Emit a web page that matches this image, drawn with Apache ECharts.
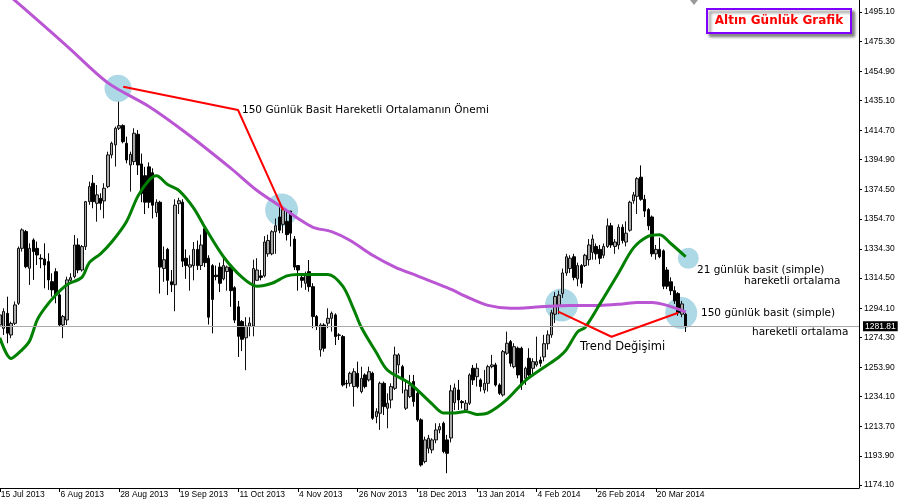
<!DOCTYPE html>
<html>
<head>
<meta charset="utf-8">
<script src="https://cdn.jsdelivr.net/npm/echarts@6.0.0/dist/echarts.min.js"></script>
<style>
  html, body { margin: 0; padding: 0; background: #fff; }
  #chart { width: 900px; height: 500px; }
</style>
</head>
<body>
<div id="chart"></div>
<script>
// --- data ---
const MONTHS = ['Jan', 'Feb', 'Mar', 'Apr', 'May', 'Jun', 'Jul', 'Aug', 'Sep', 'Oct', 'Nov', 'Dec'];
const startDate = '2013-07-15';
const holidays = ['2013-12-25', '2014-01-01'];
const slotCount = 231;      // bars + empty space on the right (MT4 chart shift)
const labelEvery = 16;

// daily candles: [open, close, low, high]
const ohlc = [
  [1282.7,1289.5,1280.4,1292.2],[1280.4,1291.8,1275.9,1294.0],[1290.6,1277.1,1270.3,1301.9],[1275.9,1283.8,1273.7,1285.0],
  [1283.8,1296.3,1282.7,1298.6],[1297.4,1334.7,1296.3,1335.9],[1334.7,1347.2,1332.5,1348.3],[1346.1,1322.3,1321.2,1347.2],
  [1321.2,1334.7,1309.9,1338.1],[1340.4,1332.5,1313.3,1341.5],[1334.7,1330.2,1323.4,1339.3],[1328.0,1327.5,1321.2,1330.7],
  [1327.5,1323.4,1307.6,1338.1],[1325.7,1313.3,1306.5,1331.4],[1312.1,1306.5,1301.9,1317.8],[1318.9,1303.1,1297.4,1321.2],
  [1303.1,1282.7,1281.6,1304.2],[1282.7,1288.4,1273.7,1289.5],[1286.1,1313.3,1282.7,1315.5],[1313.0,1314.8,1312.1,1317.8],
  [1315.5,1337.0,1314.4,1343.8],[1337.0,1320.0,1317.8,1341.5],[1320.0,1335.9,1318.9,1337.0],[1335.9,1366.4,1333.6,1366.9],
  [1366.4,1376.6,1364.2,1380.0],[1378.9,1366.4,1361.9,1384.5],[1365.3,1371.0,1352.8,1377.7],[1368.7,1365.3,1360.8,1372.1],
  [1366.9,1375.5,1355.1,1378.9],[1376.6,1398.1,1375.5,1400.3],[1398.1,1406.0,1395.8,1407.1],[1404.9,1416.2,1390.2,1417.3],
  [1416.2,1418.0,1415.0,1434.3],[1418.0,1407.1,1406.0,1418.9],[1406.0,1394.7,1392.4,1410.5],[1391.3,1398.5,1373.2,1400.3],
  [1393.6,1412.8,1391.3,1416.2],[1412.1,1391.3,1384.5,1415.0],[1392.0,1372.0,1366.0,1399.0],[1384.0,1366.0,1358.0,1390.0],
  [1390.0,1366.0,1362.0,1393.0],[1386.0,1364.0,1355.0,1389.0],[1359.0,1366.0,1356.0,1368.0],[1366.0,1322.0,1304.0,1367.0],
  [1321.0,1327.0,1312.0,1336.0],[1334.0,1313.0,1303.0,1335.0],[1312.0,1310.0,1305.0,1320.0],[1310.0,1364.0,1292.0,1368.0],
  [1365.0,1367.0,1358.0,1369.0],[1366.0,1326.0,1322.0,1368.0],[1328.0,1323.0,1314.0,1334.0],[1322.0,1323.5,1306.0,1330.0],
  [1323.0,1334.0,1313.0,1339.0],[1334.0,1323.0,1320.0,1340.0],[1323.0,1337.0,1320.0,1344.0],[1348.0,1325.0,1322.0,1349.0],
  [1328.0,1288.0,1283.0,1330.0],[1323.0,1300.0,1277.0,1324.0],[1316.5,1315.5,1313.0,1323.0],[1322.0,1311.0,1305.0,1325.0],
  [1314.0,1323.0,1313.0,1328.0],[1319.0,1322.0,1306.0,1323.0],[1322.0,1306.0,1295.0,1323.0],[1308.0,1286.0,1284.0,1309.0],
  [1295.0,1275.0,1261.0,1299.0],[1285.0,1273.0,1265.0,1286.0],[1274.0,1282.0,1252.0,1288.0],[1282.0,1284.0,1275.0,1288.0],
  [1282.0,1321.0,1275.0,1327.0],[1313.0,1320.0,1313.0,1328.0],[1316.0,1315.0,1313.0,1320.0],[1316.0,1339.0,1315.0,1343.0],
  [1331.0,1340.0,1329.0,1344.0],[1331.0,1346.0,1330.0,1347.0],[1346.0,1350.0,1331.0,1355.0],[1356.0,1347.0,1345.0,1363.0],
  [1351.0,1361.0,1345.0,1362.0],[1353.0,1344.0,1340.0,1360.0],[1360.0,1345.0,1336.0,1360.0],[1341.0,1322.0,1320.0,1343.0],
  [1323.0,1320.0,1306.0,1323.0],[1315.0,1313.0,1308.0,1318.0],[1311.0,1316.6,1306.5,1318.9],[1318.9,1308.7,1305.3,1326.8],
  [1308.7,1288.4,1280.5,1311.0],[1288.4,1281.6,1279.3,1289.5],[1265.8,1282.7,1261.2,1283.9],[1282.7,1266.9,1264.6,1283.9],
  [1283.9,1287.2,1280.5,1294.0],[1287.2,1290.6,1278.2,1291.8],[1289.5,1274.8,1269.1,1290.6],[1275.9,1275.7,1272.5,1277.1],
  [1274.8,1242.0,1240.9,1275.9],[1243.1,1242.7,1239.7,1245.4],[1243.1,1249.9,1240.9,1251.0],[1240.9,1251.0,1227.3,1253.3],
  [1249.9,1240.9,1239.7,1257.8],[1237.5,1246.5,1236.3,1254.4],[1248.8,1240.9,1239.7,1249.9],[1245.4,1251.0,1244.3,1254.4],
  [1249.9,1219.4,1218.3,1251.0],[1220.5,1223.9,1216.0,1226.2],[1222.8,1243.1,1211.5,1244.3],[1243.1,1227.3,1221.6,1244.3],
  [1226.2,1229.6,1212.6,1236.3],[1231.8,1240.9,1226.2,1243.1],[1239.7,1262.4,1238.6,1268.0],[1255.6,1262.4,1249.9,1263.5],
  [1254.4,1246.5,1236.3,1255.6],[1226.2,1238.6,1225.0,1245.4],[1234.1,1242.0,1233.0,1248.8],[1244.3,1230.7,1227.3,1248.8],
  [1236.3,1218.3,1217.1,1238.6],[1218.3,1187.7,1186.6,1219.4],[1190.0,1204.7,1188.8,1206.9],[1199.0,1205.8,1195.6,1208.1],
  [1197.9,1204.7,1195.6,1205.8],[1204.7,1211.5,1202.4,1216.0],[1211.5,1213.7,1209.2,1216.0],[1216.0,1196.8,1195.6,1217.1],
  [1204.7,1195.6,1182.1,1208.1],[1206.0,1238.0,1203.0,1242.0],[1230.0,1240.0,1225.0,1243.0],[1238.6,1231.8,1225.0,1245.4],
  [1230.7,1230.0,1226.0,1231.8],[1225.0,1229.6,1224.0,1231.8],[1229.6,1248.8,1228.4,1249.9],[1253.3,1245.4,1242.0,1255.6],
  [1247.6,1253.3,1240.9,1256.7],[1245.4,1240.9,1237.5,1246.5],[1238.6,1243.1,1236.3,1252.2],[1243.1,1254.4,1237.5,1255.6],
  [1254.4,1255.6,1253.3,1262.4],[1255.6,1242.0,1240.9,1257.0],[1242.0,1236.3,1235.2,1243.1],[1235.2,1264.6,1234.1,1265.7],
  [1263.5,1270.3,1262.4,1278.2],[1271.4,1256.7,1254.4,1272.5],[1254.4,1268.0,1253.3,1270.3],[1266.9,1248.8,1246.5,1268.0],
  [1266.9,1242.0,1238.6,1268.0],[1246.5,1253.3,1242.0,1254.4],[1260.1,1248.8,1247.6,1266.9],[1253.3,1257.8,1248.8,1260.1],
  [1255.6,1257.8,1254.4,1274.8],[1258.9,1256.7,1254.4,1261.2],[1261.0,1270.0,1258.0,1276.0],[1270.0,1276.0,1266.0,1279.0],
  [1276.0,1291.0,1274.0,1293.0],[1290.0,1302.0,1284.0,1305.0],[1296.0,1303.0,1290.0,1306.0],[1304.0,1318.0,1301.0,1321.0],
  [1318.0,1329.0,1316.0,1331.0],[1321.0,1328.0,1318.0,1330.0],[1329.0,1315.0,1313.0,1331.0],[1314.0,1323.0,1309.0,1325.0],
  [1323.0,1311.0,1308.0,1324.0],[1323.0,1330.0,1322.0,1331.0],[1327.0,1337.0,1323.0,1341.0],[1332.0,1341.0,1327.0,1344.0],
  [1336.0,1331.0,1327.0,1338.0],[1334.0,1328.0,1324.0,1337.0],[1330.0,1336.0,1328.0,1338.0],[1336.0,1350.0,1335.0,1355.0],
  [1350.0,1337.0,1335.0,1352.0],[1336.0,1339.0,1331.0,1341.0],[1337.0,1349.0,1334.0,1351.0],[1349.0,1340.0,1338.0,1351.0],
  [1339.0,1345.0,1336.0,1353.0],[1347.0,1366.0,1346.0,1367.0],[1367.0,1371.0,1365.0,1373.0],[1370.0,1382.0,1358.0,1383.0],
  [1383.0,1368.0,1367.0,1391.0],[1368.0,1360.0,1356.0,1371.0],[1361.0,1350.0,1347.0,1362.0],[1356.0,1331.0,1329.0,1357.0],
  [1331.0,1334.0,1327.0,1337.0],[1334.0,1329.0,1328.0,1342.0],[1333.0,1309.0,1307.0,1334.0],[1320.0,1309.0,1307.0,1322.0],
  [1312.0,1306.0,1303.0,1315.0],[1306.0,1299.0,1297.0,1309.0],[1304.0,1291.0,1289.0,1305.0],[1290.0,1297.0,1288.0,1299.0],
  [1290.0,1281.81,1278.0,1291.0]
];

// 21-day simple moving average (green), [bar, value]
const sma21 = [
  [0,1274],[3,1260],[6,1266],[8,1272],[10,1286],[12,1294],[15,1303],[18,1310],[22,1315],[24,1325],[27,1331],
  [30,1339],[34,1353],[37,1370],[40,1381],[42,1384],[45,1378],[48,1374],[52,1362],[55,1349],[60,1329],[65,1315],
  [69,1309],[73,1311],[77,1316],[80,1317],[88,1317],[92,1309],[95,1293],[97,1281],[101,1264],[104,1252],[110,1243],
  [116,1229],[119,1223],[122,1223],[125,1224],[128,1222],[131,1223],[136,1232],[141,1245],[146,1254],[150,1261],
  [152,1266],[155,1278],[157,1281],[161,1297],[166,1318],[170,1335],[174,1343],[177,1344],[180,1338],[184,1329]
];

// 150-day simple moving average (purple), [bar, value]
const sma150 = [
  [0,1511],[4,1503],[18,1472],[29,1447],[40,1431],[50,1413],[62,1389],[69,1374],[76,1362],[80,1355],[84,1349],
  [89,1346],[94,1340],[100,1330],[106,1322],[112,1316],[120,1308],[126,1301],[131,1296],[137,1294],[145,1295],
  [153,1296],[161,1296],[167,1297],[171,1298],[175,1298],[179,1296],[184,1291.5]
];

const yTicks = [1174.10, 1193.90, 1213.70, 1234.10, 1253.90, 1274.30, 1294.10, 1314.50, 1334.30,
  1354.70, 1374.50, 1394.90, 1414.70, 1435.10, 1454.90, 1475.30, 1495.10];
const lastPrice = 1281.81;

// annotations: light blue circles [bar, price, diameter] and red pointer lines
const circles = [[31.7,1443.3,27],[75.6,1360.7,33],[150.7,1296.3,33],[182.8,1290.8,32],[184.7,1328.0,21]];
const pointerSma = [[33.1,1444.4],[63.9,1428.6],[76.0,1360.7]];
const pointerTrend = [[149.8,1291.7],[164.1,1274.7],[182.0,1291.0]];

function tradingDays(start, n, skip) {
  const out = [];
  const d = new Date(start + 'T00:00:00Z');
  while (out.length < n) {
    const wd = d.getUTCDay();
    const iso = d.toISOString().slice(0, 10);
    if (wd !== 0 && wd !== 6 && skip.indexOf(iso) < 0) {
      out.push(d.getUTCDate() + ' ' + MONTHS[d.getUTCMonth()] + ' ' + d.getUTCFullYear());
    }
    d.setUTCDate(d.getUTCDate() + 1);
  }
  return out;
}
const dates = tradingDays(startDate, slotCount, holidays);

const showLabel = (i) => i % labelEvery === 0 && i < ohlc.length;
const axisFont = 'Liberation Sans';
const noteFont = '10.5px "DejaVu Sans"';

const chart = echarts.init(document.getElementById('chart'), null, { renderer: 'canvas' });

const option = {
  animation: false,
  backgroundColor: '#ffffff',
  grid: { left: -2, right: 41, top: 0, bottom: 12, containLabel: false, outerBoundsMode: 'none' },
  xAxis: [
    {
      type: 'category',
      data: dates,
      boundaryGap: true,
      axisLine: { show: true, onZero: false, lineStyle: { color: '#000', width: 1 } },
      axisTick: { show: true, alignWithLabel: true, interval: showLabel, length: 4, lineStyle: { color: '#000' } },
      axisLabel: {
        interval: showLabel, align: 'left', margin: 2, padding: [0, 0, 0, 1],
        color: '#000', fontSize: 8.5, fontFamily: axisFont
      },
      splitLine: { show: false }
    },
    {
      // helper axis for annotations, same pixel mapping as bar centres
      type: 'value', min: -0.5, max: slotCount - 0.5, show: false,
      axisLine: { show: false, onZero: false }
    }
  ],
  yAxis: {
    type: 'value',
    position: 'right',
    min: 1172.06,
    max: 1503.25,
    scale: true,
    splitLine: { show: false },
    axisLine: { show: true, onZero: false, lineStyle: { color: '#000', width: 1 } },
    axisTick: { show: true, customValues: yTicks, length: 3, lineStyle: { color: '#000' } },
    axisLabel: {
      customValues: yTicks, margin: 5, color: '#000', fontSize: 8.5, fontFamily: axisFont,
      formatter: (v) => Number(v).toFixed(2)
    }
  },
  series: [
    {
      name: 'circles',
      type: 'scatter',
      xAxisIndex: 1,
      z: 1,
      silent: true,
      data: circles,
      symbol: 'circle',
      symbolSize: (v) => v[2],
      itemStyle: { color: '#add8e6', opacity: 1 }
    },
    {
      name: 'XAUUSD',
      type: 'candlestick',
      xAxisIndex: 0,
      z: 2,
      barWidth: 3,
      data: ohlc,
      itemStyle: {
        color: '#a8a8a8', color0: '#000',
        borderColor: '#111', borderColor0: '#000', borderWidth: 1
      },
      markLine: {
        silent: true,
        symbol: 'none',
        data: [{ yAxis: lastPrice }],
        lineStyle: { color: '#a8a8a8', width: 1, type: 'solid' },
        label: {
          position: 'end', distance: 4,
          formatter: lastPrice.toFixed(2),
          backgroundColor: '#000', color: '#fff', padding: [1, 2, 0, 2],
          fontSize: 8.5, fontFamily: axisFont
        }
      }
    },
    {
      name: 'SMA 150',
      type: 'line',
      xAxisIndex: 1,
      z: 3,
      data: sma150,
      smooth: 0.3,
      symbol: 'none',
      lineStyle: { color: '#ba55d3', width: 3 }
    },
    {
      name: 'SMA 21',
      type: 'line',
      xAxisIndex: 1,
      z: 3,
      data: sma21,
      smooth: 0.3,
      symbol: 'none',
      lineStyle: { color: '#008000', width: 3 }
    },
    {
      name: 'pointer1',
      type: 'line',
      xAxisIndex: 1,
      z: 5,
      data: pointerSma,
      symbol: 'none',
      lineStyle: { color: '#ff0000', width: 2 }
    },
    {
      name: 'pointer2',
      type: 'line',
      xAxisIndex: 1,
      z: 5,
      data: pointerTrend,
      symbol: 'none',
      lineStyle: { color: '#ff0000', width: 2 }
    }
  ],
  graphic: [
    { type: 'text', x: 242, y: 110, z: 10, style: { text: '150 Günlük Basit Hareketli Ortalamanın Önemi', font: noteFont, fill: '#000', verticalAlign: 'middle' } },
    { type: 'text', x: 580, y: 347, z: 10, style: { text: 'Trend Değişimi', font: '11.5px "DejaVu Sans"', fill: '#000', verticalAlign: 'middle' } },
    { type: 'text', x: 697, y: 270, z: 10, style: { text: '21 günlük basit (simple)', font: noteFont, fill: '#000', verticalAlign: 'middle' } },
    { type: 'text', x: 744, y: 281, z: 10, style: { text: 'hareketli ortalama', font: noteFont, fill: '#000', verticalAlign: 'middle' } },
    { type: 'text', x: 701, y: 313, z: 10, style: { text: '150 günlük basit (simple)', font: noteFont, fill: '#000', verticalAlign: 'middle' } },
    { type: 'text', x: 752, y: 332, z: 10, style: { text: 'hareketli ortalama', font: noteFont, fill: '#000', verticalAlign: 'middle' } },
    { type: 'polygon', z: 10, shape: { points: [[690, 0], [698, 0], [694, 5]] }, style: { fill: '#9a9a9a' } },
    {
      type: 'rect', z: 10,
      shape: { x: 707, y: 9, width: 144, height: 24 },
      style: {
        fill: '#fff', stroke: '#8000ff', lineWidth: 2,
        shadowBlur: 3, shadowOffsetX: 3, shadowOffsetY: 3, shadowColor: 'rgba(0,0,0,0.45)'
      }
    },
    {
      type: 'text', x: 779, y: 21, z: 11,
      style: {
        text: 'Altın Günlük Grafik', font: 'bold 12px "DejaVu Sans"', fill: '#ff0000',
        align: 'center', verticalAlign: 'middle'
      }
    }
  ]
};

chart.setOption(option);
</script>
</body>
</html>
